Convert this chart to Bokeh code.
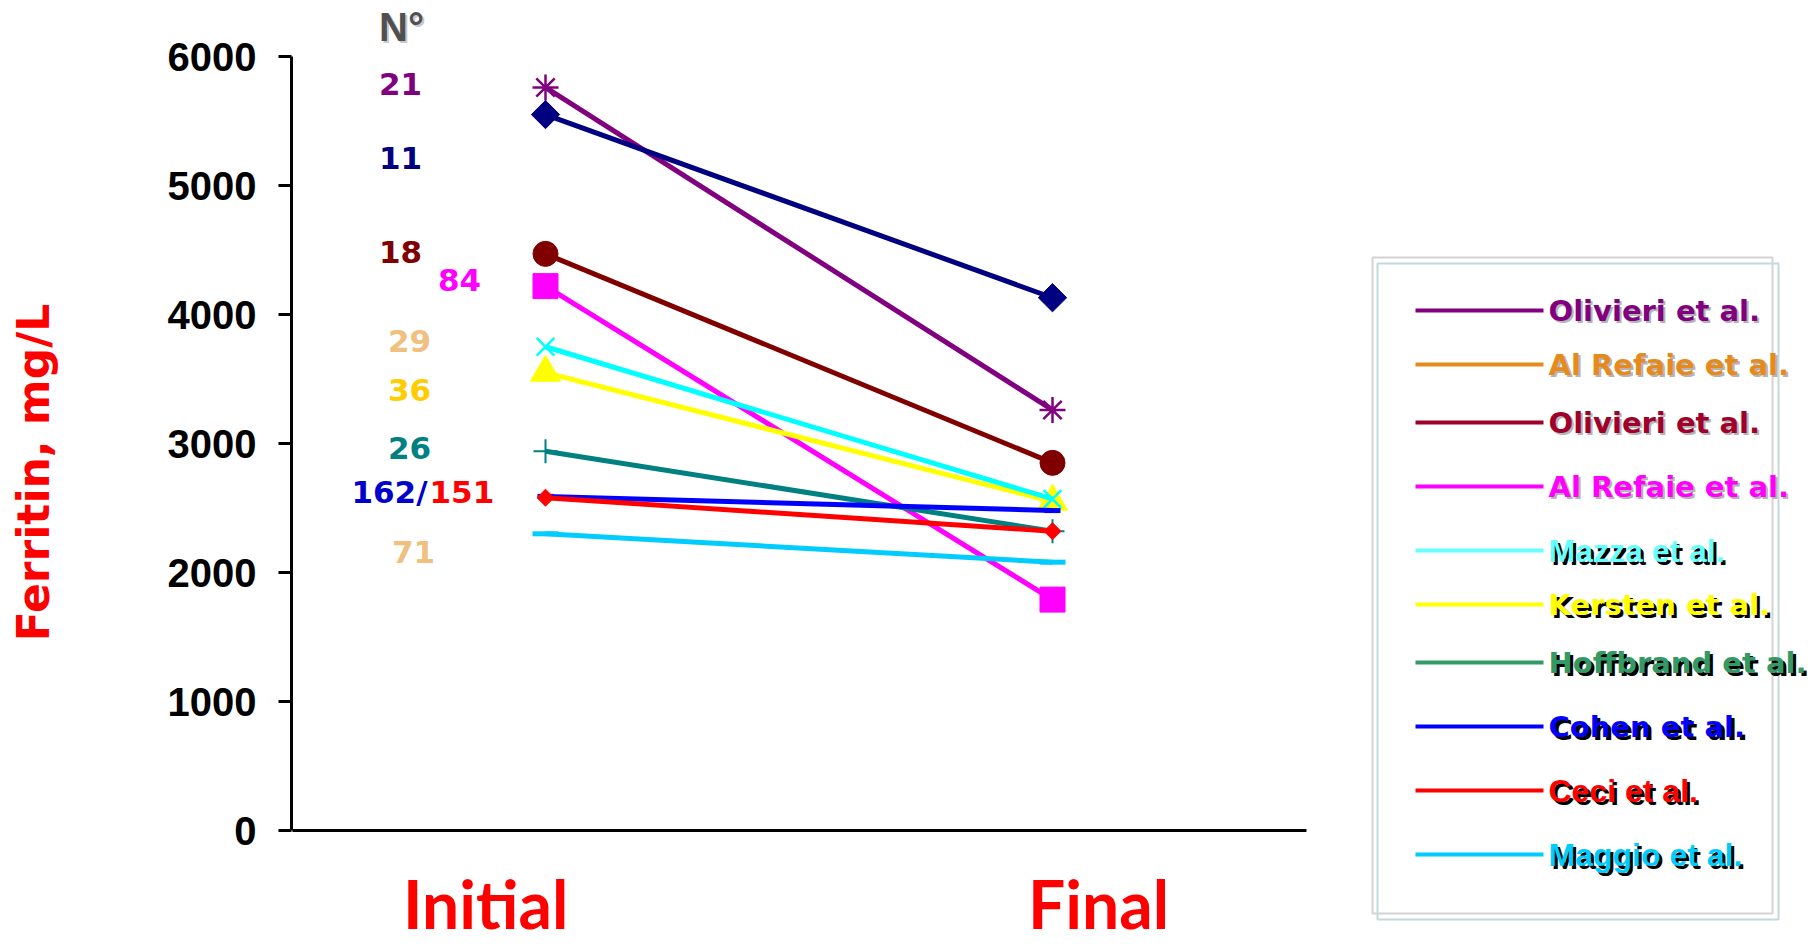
import numpy as np
from bokeh.plotting import figure
from bokeh.models import Range1d, FixedTicker
from bokeh.core.properties import value
from bokeh.embed import file_html
from bokeh.resources import INLINE

# ---------------- data ----------------
stages = ["Initial", "Final"]
stage_x = [0, 1]

# ferritin (mg/L) at start and end of therapy, one entry per study line
series_colors = ["#800080", "#000080", "#800000", "#FF00FF", "#FFFF00",
                 "#00FFFF", "#008080", "#0000FF", "#FF0000", "#00CCFF"]
series_markers = ["asterisk", "diamond", "circle", "square", "triangle",
                  "x", "cross", "dash", "small_diamond", "dash"]
ferritin_initial = [5760, 5550, 4470, 4220, 3550, 3750, 2940, 2590, 2580, 2300]
ferritin_final = [3260, 4130, 2850, 1790, 2550, 2570, 2320, 2480, 2320, 2080]

# number of patients per study
n_text = ["21", "11", "18", "84", "29", "36", "26", "162/", "151", "71"]
n_colors = ["#800080", "#000080", "#800000", "#FF00FF", "#F0C080",
            "#FFCC00", "#008080", "#0000CC", "#FF0000", "#F0C080"]

legend_labels = ["Olivieri et al.", "Al Refaie et al.", "Olivieri et al.",
                 "Al Refaie et al.", "Mazza et al.", "Kersten et al.",
                 "Hoffbrand et al.", "Cohen et al.", "Ceci et al.",
                 "Maggio et al."]
legend_colors = ["#800080", "#E68A1E", "#A0002A", "#FF00FF", "#66FFFF",
                 "#FFFF00", "#339966", "#0000FF", "#FF0000", "#00CCFF"]

y_ticks = [0, 1000, 2000, 3000, 4000, 5000, 6000]

# ---------------- layout ----------------
W, H = 1808, 944
LEFT_PX, AXIS_PX = 291, 830            # frame left edge / pixel row of y = 0
X0_PX, X_PER_UNIT = 545, 507.0         # pixel of the "Initial" column, px per stage
Y_PER_UNIT = (830 - 56) / 6000.0       # px per mg/L


def dx(px):
    return (px - X0_PX) / X_PER_UNIT


def dy(py):
    return (AXIS_PX - py) / Y_PER_UNIT


p = figure(width=W, height=H, output_backend="svg", toolbar_location=None,
           x_range=Range1d(dx(LEFT_PX), dx(W)), y_range=Range1d(dy(H), dy(0)),
           min_border_left=LEFT_PX, min_border_right=0, min_border_top=0,
           min_border_bottom=0)
p.outline_line_color = None
p.grid.visible = False
p.background_fill_color = "white"
p.border_fill_color = "white"

# x axis sits on y = 0; its labels name the two time points
stage_ticks = [round(dx(485), 3), round(dx(1098), 3)]
p.xaxis.fixed_location = 0
p.xaxis.ticker = FixedTicker(ticks=stage_ticks)
p.xaxis.major_label_overrides = {t: s for t, s in zip(stage_ticks, stages)}
p.xaxis.bounds = (-0.5, 1.5)
p.xaxis.axis_line_width = 3
p.xaxis.major_tick_out = 0
p.xaxis.major_tick_in = 0
p.xaxis.minor_tick_out = 0
p.xaxis.minor_tick_in = 0
p.xaxis.major_label_standoff = 33
p.xaxis.major_label_text_font = "Lato"
p.xaxis.major_label_text_font_style = "bold"
p.xaxis.major_label_text_font_size = "66px"
p.xaxis.major_label_text_color = "#FF0000"

p.yaxis.ticker = FixedTicker(ticks=y_ticks)
p.yaxis.bounds = (0, 6000)
p.yaxis.axis_line_width = 3
p.yaxis.major_tick_out = 13
p.yaxis.major_tick_in = 0
p.yaxis.major_tick_line_width = 3
p.yaxis.minor_tick_out = 0
p.yaxis.minor_tick_in = 0
p.yaxis.major_label_standoff = 22
p.yaxis.major_label_text_font = "Liberation Sans"
p.yaxis.major_label_text_font_style = "bold"
p.yaxis.major_label_text_font_size = "40px"
p.yaxis.major_label_text_color = "black"
p.yaxis.axis_label = "Ferritin, mg/L"
p.yaxis.axis_label_text_font = "DejaVu Sans"
p.yaxis.axis_label_text_font_style = "bold"
p.yaxis.axis_label_text_font_size = "44px"
p.yaxis.axis_label_text_color = "#FF0000"
p.yaxis.axis_label_standoff = 106

# study lines and their end markers
for i in range(len(series_colors)):
    c = series_colors[i]
    ys = [ferritin_initial[i], ferritin_final[i]]
    p.line(stage_x, ys, line_color=c, line_width=5)
    m = series_markers[i]
    if m == "diamond":
        p.scatter(stage_x, ys, marker="square", angle=np.pi / 4, size=20,
                  fill_color=c, line_color=c)
    elif m == "small_diamond":
        p.scatter(stage_x, ys, marker="square", angle=np.pi / 4, size=12,
                  fill_color=c, line_color=c)
    elif m == "circle":
        p.scatter(stage_x, ys, marker="circle", size=25, fill_color=c, line_color=c)
    elif m == "square":
        p.scatter(stage_x, ys, marker="square", size=25, fill_color=c, line_color=c)
    elif m == "triangle":
        p.scatter(stage_x, ys, marker="triangle", size=30, fill_color=c, line_color=c)
    elif m == "asterisk":
        p.scatter(stage_x, ys, marker="asterisk", size=26, line_color=c, line_width=2.5)
    elif m == "x":
        p.scatter(stage_x, ys, marker="x", size=25, line_color=c, line_width=2.5)
    elif m == "cross":
        p.scatter(stage_x, ys, marker="cross", size=24, line_color=c, line_width=2)
    elif m == "dash":
        size = 16 if c == "#0000FF" else 26
        p.scatter(stage_x, ys, marker="dash", size=size, line_color=c, line_width=5)

# patient counts beside the axis
n_x_px = [400, 400, 400, 459, 409, 409, 409, 427, 429, 413]
n_y_px = [83, 157, 251, 279, 340, 389, 447, 491, 491, 551]
n_align = ["center"] * 7 + ["right", "left", "center"]
for t, c, xp, yp, al in zip(n_text, n_colors, n_x_px, n_y_px, n_align):
    p.text([dx(xp)], [dy(yp)], text=[t], text_color=c, text_align=al,
           text_baseline="middle", text_font=value("DejaVu Sans"),
           text_font_style="bold", text_font_size="31px")

# column header
p.text([dx(403)], [dy(28)], text=["N°"], text_color="#C8C8C8", text_align="center",
       text_baseline="middle", text_font=value("Liberation Sans"),
       text_font_style="bold", text_font_size="40px")
p.text([dx(401)], [dy(26)], text=["N°"], text_color="#505050", text_align="center",
       text_baseline="middle", text_font=value("Liberation Sans"),
       text_font_style="bold", text_font_size="40px")

# legend panel
p.quad(left=[dx(1372)], right=[dx(1772)], top=[dy(257)], bottom=[dy(913)],
       fill_color=None, line_color="#D4D4D4", line_width=2)
p.quad(left=[dx(1377)], right=[dx(1778)], top=[dy(263)], bottom=[dy(919)],
       fill_color=None, line_color="#C4DADA", line_width=2)

row_y_px = [310, 364, 422, 486, 550, 604, 662, 726, 790, 854]
arial_rows = {"Mazza et al.", "Ceci et al.", "Maggio et al."}
soft_shadow_rows = {0, 1, 2, 3}
for i, (lab, c, yp) in enumerate(zip(legend_labels, legend_colors, row_y_px)):
    p.segment([dx(1415)], [dy(yp)], [dx(1543)], [dy(yp)], line_color=c, line_width=4)
    if lab in arial_rows:
        font, size = "Liberation Sans", "32px"
    else:
        font, size = "DejaVu Sans", "29px"
    shadow = "#B4B4B4" if i in soft_shadow_rows else "#000000"
    off = 2 if i in soft_shadow_rows else 3
    p.text([dx(1548)], [dy(yp)], text=[lab], text_color=shadow, text_align="left",
           text_baseline="middle", text_font=value(font), text_font_style="bold",
           text_font_size=size, x_offset=off, y_offset=off)
    p.text([dx(1548)], [dy(yp)], text=[lab], text_color=c, text_align="left",
           text_baseline="middle", text_font=value(font), text_font_style="bold",
           text_font_size=size)

open("out.html", "w").write(file_html(p, INLINE))
